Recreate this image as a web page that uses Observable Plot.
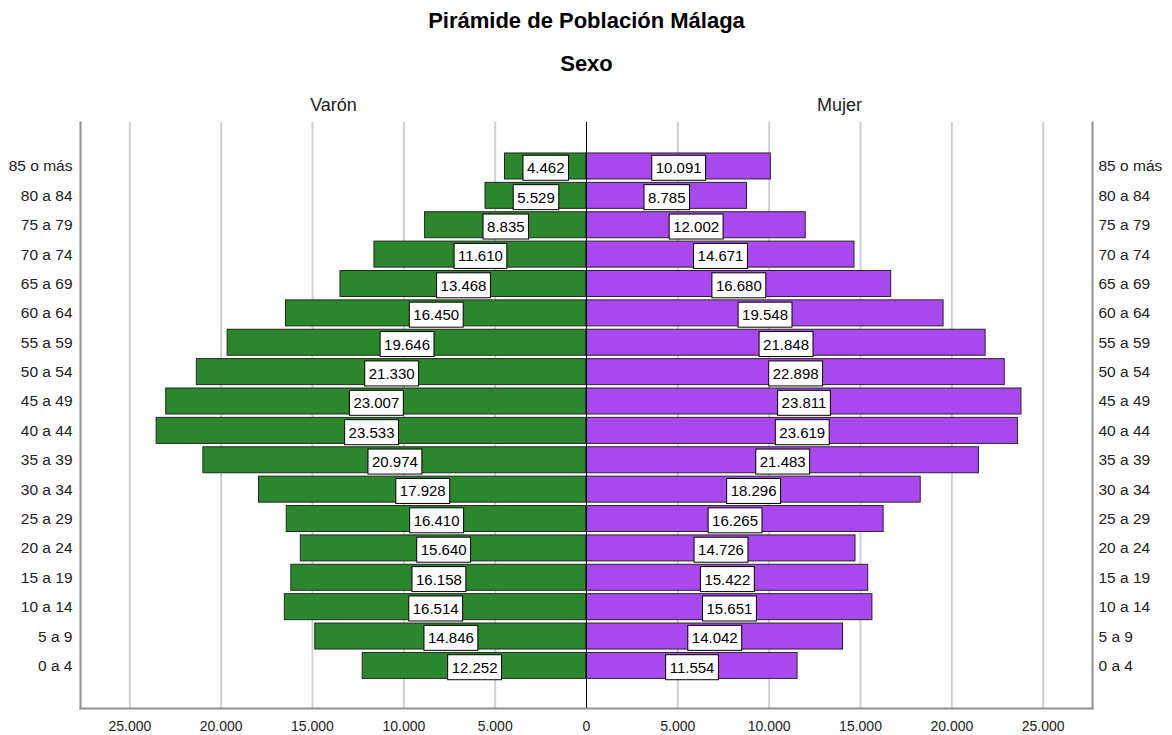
<!DOCTYPE html>
<html><head><meta charset="utf-8">
<script src="https://cdn.jsdelivr.net/npm/d3@7"></script>
<script src="https://cdn.jsdelivr.net/npm/@observablehq/plot@0.6"></script>
<style>body{margin:0;background:#fff;font-family:"Liberation Sans",Arial,sans-serif}</style>
</head><body><div id="chart"></div>
<script>
const title = "Pirámide de Población Málaga";
const subtitle = "Sexo";
const sexLabels = ["Varón", "Mujer"];
const ageGroups = ["85 o más","80 a 84","75 a 79","70 a 74","65 a 69","60 a 64","55 a 59","50 a 54","45 a 49","40 a 44","35 a 39","30 a 34","25 a 29","20 a 24","15 a 19","10 a 14","5 a 9","0 a 4"];
const varon = [4462,5529,8835,11610,13468,16450,19646,21330,23007,23533,20974,17928,16410,15640,16158,16514,14846,12252];
const mujer = [10091,8785,12002,14671,16680,19548,21848,22898,23811,23619,21483,18296,16265,14726,15422,15651,14042,11554];
const xTicks = [-25000,-20000,-15000,-10000,-5000,0,5000,10000,15000,20000,25000];
const xDomain = [-27700, 27700];
const colors = {"Varón": "#2b872b", "Mujer": "#aa48f0"};

const rows = ageGroups.flatMap((g, i) => [
  {age: g, sexo: "Varón", value: varon[i], x: -varon[i]},
  {age: g, sexo: "Mujer", value: mujer[i], x: mujer[i]}
]);
const loc = d3.formatLocale({decimal: ",", thousands: ".", grouping: [3], currency: ["", "€"]});
const fmt = loc.format(",d");
const font = "Liberation Sans, Arial, sans-serif";

const plot = Plot.plot({
  width: 1172, height: 735,
  marginTop: 122, marginBottom: 27, marginLeft: 80, marginRight: 80,
  style: {fontFamily: font, fontSize: "14px", background: "#fff", color: "#222"},
  x: {domain: xDomain, axis: null},
  y: {domain: ageGroups, range: [149.6, 681.8], padding: 0.115, round: false, axis: null},
  marks: [
    Plot.ruleX(xTicks.filter(d => d !== 0), {stroke: "#cfcfcf", strokeWidth: 2, strokeOpacity: 1}),
    Plot.barX(rows, {x1: 0, x2: "x", y: "age", fill: d => colors[d.sexo], stroke: "#262626", strokeWidth: 1}),
    Plot.ruleX([0], {stroke: "#000", strokeWidth: 1}),
    Plot.frame({anchor: "left", stroke: "#8f8f8f", strokeWidth: 2}),
    Plot.frame({anchor: "right", stroke: "#8f8f8f", strokeWidth: 2}),
    Plot.frame({anchor: "bottom", stroke: "#8f8f8f", strokeWidth: 2}),
    Plot.axisX({ticks: xTicks, tickFormat: d => fmt(Math.abs(d)), tickSize: 0, tickPadding: 13, fontSize: 14, anchor: "bottom", label: null}),
    Plot.axisY({anchor: "left", tickSize: 0, tickPadding: 8, fontSize: 15.5, label: null}),
    Plot.axisY({anchor: "right", tickSize: 0, tickPadding: 6, fontSize: 15.5, label: null}),
    Plot.text(rows, {x: d => d.x / 2, y: "age", text: d => fmt(d.value), fontSize: 15, dy: 2, fill: "#000"}),
    Plot.text([title], {text: d => d, frameAnchor: "top", lineAnchor: "middle", dy: -102, fontSize: 22, fontWeight: "bold", fill: "#000"}),
    Plot.text([subtitle], {text: d => d, frameAnchor: "top", lineAnchor: "middle", dy: -59, fontSize: 22, fontWeight: "bold", fill: "#000"}),
    Plot.text(sexLabels, {x: d => d === "Varón" ? xDomain[0] / 2 : xDomain[1] / 2, text: d => d, frameAnchor: "top", lineAnchor: "middle", dy: -17, fontSize: 18, fill: "#222"})
  ]
});
document.getElementById("chart").appendChild(plot);

// white boxes behind the value labels
const textGroups = plot.querySelectorAll('g[aria-label="text"]');
const labelGroup = textGroups[0];
if (labelGroup) {
  labelGroup.querySelectorAll("text").forEach(t => {
    const b = t.getBBox();
    const r = document.createElementNS("http://www.w3.org/2000/svg", "rect");
    const cy = b.y + b.height / 2;
    r.setAttribute("x", b.x - 4);
    r.setAttribute("y", cy - 12.5);
    r.setAttribute("width", b.width + 8);
    r.setAttribute("height", 25);
    r.setAttribute("fill", "#fff");
    r.setAttribute("stroke", "#000");
    r.setAttribute("stroke-width", 1);
    const tr = t.getAttribute("transform");
    if (tr) r.setAttribute("transform", tr);
    t.parentNode.insertBefore(r, t);
  });
}
</script>
</body></html>
